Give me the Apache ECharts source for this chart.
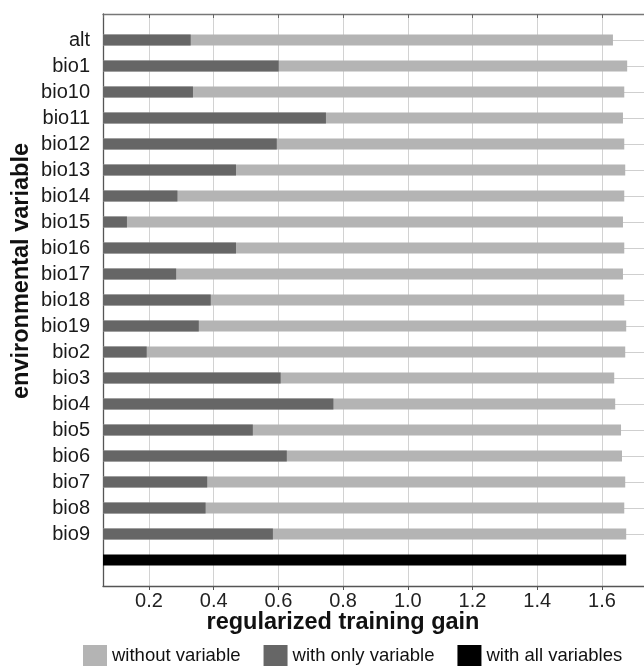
<!DOCTYPE html>
<html>
<head>
<meta charset="utf-8">
<script src="https://cdn.jsdelivr.net/npm/echarts@6/dist/echarts.min.js"></script>
<style>html,body{margin:0;padding:0;background:#fff;}#c{width:644px;height:666px;}</style>
</head>
<body>
<div id="c"></div>
<script>
const categories = ['alt','bio1','bio10','bio11','bio12','bio13','bio14','bio15','bio16','bio17','bio18','bio19','bio2','bio3','bio4','bio5','bio6','bio7','bio8','bio9'];
const withoutVariable = [1.634,1.678,1.669,1.665,1.669,1.672,1.669,1.665,1.669,1.665,1.669,1.675,1.672,1.638,1.641,1.659,1.662,1.672,1.669,1.675];
const withOnlyVariable = [0.329,0.601,0.336,0.747,0.595,0.469,0.288,0.132,0.469,0.284,0.391,0.354,0.193,0.607,0.770,0.521,0.626,0.380,0.375,0.583];
const withAllVariables = 1.675;
const xMin = 0.058, xMax = 1.73;

const rows = ['_top'].concat(categories, ['_all', '_bottom']);
const lightData = [null].concat(withoutVariable, [null, null]);
const darkData = [null].concat(withOnlyVariable, [null, null]);
const blackData = rows.map(r => r === '_all' ? withAllVariables : null);
const splitColors = rows.map(r => (r.charAt(0) === '_') ? 'rgba(0,0,0,0)' : '#cfcfcf');

const chart = echarts.init(document.getElementById('c'), null, {renderer: 'canvas'});
const font = 'Liberation Sans, Arial, Helvetica, sans-serif';
chart.setOption({
  animation: false,
  backgroundColor: '#fff',
  textStyle: {fontFamily: font},
  grid: {left: 103, right: 0, top: 14, bottom: 80, containLabel: false, outerBoundsMode: 'none'},
  legend: {
    left: 83, top: 645, padding: 0, itemWidth: 24, itemHeight: 21, itemGap: 23,
    icon: 'rect',
    textStyle: {fontSize: 18.5, color: '#111', fontFamily: font},
    data: ['without variable', 'with only variable', 'with all variables']
  },
  xAxis: [{
    type: 'value', position: 'bottom', min: xMin, max: xMax, splitNumber: 8,
    axisLine: {show: true, lineStyle: {color: '#555', width: 1.3}},
    axisTick: {show: true, inside: false, length: 4, lineStyle: {color: '#555'}},
    axisLabel: {
      showMinLabel: false, showMaxLabel: false, margin: 5, fontSize: 20, color: '#222', fontFamily: font,
      formatter: v => (Math.abs(v * 5 - Math.round(v * 5)) < 1e-6 ? v.toFixed(1) : '')
    },
    splitLine: {show: true, lineStyle: {color: '#d2d2d2', width: 1}}
  }, {
    type: 'value', position: 'top', min: xMin, max: xMax, splitNumber: 8,
    axisLine: {show: true, lineStyle: {color: '#777', width: 1.3}},
    axisTick: {show: true, inside: true, length: 4, lineStyle: {color: '#666'}},
    axisLabel: {show: false},
    splitLine: {show: false}
  }],
  yAxis: {
    type: 'category', inverse: true, boundaryGap: false, data: rows,
    axisLine: {show: true, lineStyle: {color: '#555', width: 1.3}},
    axisTick: {show: false},
    axisLabel: {
      interval: 0, margin: 13, fontSize: 20, color: '#1a1a1a', fontFamily: font,
      formatter: v => (v.charAt(0) === '_' ? '' : v)
    },
    splitLine: {show: true, interval: 0, lineStyle: {color: splitColors, width: 1}}
  },
  series: [
    {name: 'without variable', type: 'bar', data: lightData, barWidth: 11, barGap: '-100%', itemStyle: {color: '#b4b4b4'}, z: 2},
    {name: 'with only variable', type: 'bar', data: darkData, barWidth: 11, barGap: '-100%', itemStyle: {color: '#666666'}, z: 3},
    {name: 'with all variables', type: 'bar', data: blackData, barWidth: 11, barGap: '-100%', itemStyle: {color: '#000000'}, z: 3}
  ],
  graphic: [
    {type: 'text', x: 343, y: 623, silent: true,
      style: {text: 'regularized training gain', font: 'bold 23.5px ' + font, fill: '#111', align: 'center', verticalAlign: 'middle'}},
    {type: 'text', x: 22, y: 271, rotation: Math.PI / 2, silent: true,
      style: {text: 'environmental variable', font: 'bold 23.5px ' + font, fill: '#111', align: 'center', verticalAlign: 'middle'}}
  ]
});
</script>
</body>
</html>
